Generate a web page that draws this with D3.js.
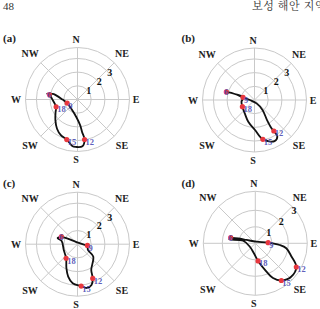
<!DOCTYPE html>
<html>
<head>
<meta charset="utf-8">
<script src="https://cdn.jsdelivr.net/npm/d3@7"></script>
<style>
body { margin: 0; background: #fff; }
svg { display: block; }
</style>
</head>
<body>
<svg width="320" height="309"></svg>
<script>
// labels
const compass = ["N", "NE", "E", "SE", "S", "SW", "W", "NW"];
const ringTicks = [1, 2, 3];
const panelNames = ["(a)", "(b)", "(c)", "(d)"];
const hours = [6, 9, 12, 15, 18];

// wind tracks: [direction (deg from N, clockwise), speed]
const trackA = [[280, 2.08], [283, 1.85], [281, 1.59], [273, 1.19], [251, 0.80], [215, 0.81],
	[184, 1.28], [174, 1.90], [172, 2.40], [170, 2.97], [174, 3.44], [182, 3.47], [186, 3.44],
	[195, 3.03], [205, 2.88], [215, 2.61], [227, 2.21], [240, 1.85], [251, 1.65], [268, 1.80],
	[277, 2.00], [281, 2.26], [280, 2.08]];
const trackB = [[286, 2.14], [287, 1.50], [283, 0.86], [270, 0.34], [149, 0.29], [141, 0.93],
	[148, 1.73], [149, 2.41], [148, 2.67], [148, 3.15], [154, 3.34], [168, 2.94], [179, 2.19],
	[196, 1.65], [216, 1.21], [241, 1.01], [262, 0.96], [283, 0.86], [287, 1.50], [286, 2.14]];
const trackC = [[295, 1.30], [302, 0.67], [18, 0.12], [96, 0.53], [97, 0.73], [119, 0.87],
	[128, 1.46], [152, 2.14], [156, 2.74], [161, 3.15], [168, 3.27], [175, 3.07], [187, 2.88],
	[196, 2.47], [205, 1.92], [219, 1.32], [247, 1.09], [281, 1.18], [287, 1.52], [295, 1.30]];
const trackD = [[283, 1.53], [286, 1.08], [291, 0.56], [37, 0.12], [87, 0.78], [94, 1.48],
	[99, 1.90], [110, 2.33], [120, 2.87], [133, 2.97], [145, 2.75], [153, 2.36], [160, 1.71],
	[171, 1.08], [188, 0.61], [238, 0.39], [282, 0.75], [279, 1.60], [283, 1.53]];

// position of each hour (6, 9, 12, 15, 18) inside the track
const marksA = [0, 4, 9, 13, 18];
const marksB = [0, 2, 8, 11, 15];
const marksC = [0, 4, 8, 11, 15];
const marksD = [0, 4, 8, 10, 13];

// layout, not data
const layout = [
	{cx: 77.5, cy: 99.5, max: 3.8, lx: 3, ly: 41.5},
	{cx: 254.5, cy: 100, max: 3.8, lx: 181.5, ly: 41.5},
	{cx: 77.5, cy: 244.2, max: 3.8, lx: 3, ly: 187},
	{cx: 255.3, cy: 243.3, max: 3.15, lx: 181.5, ly: 187}
];
const tracks = [trackA, trackB, trackC, trackD];
const marks = [marksA, marksB, marksC, marksD];

const R = 52;
const serif = "'Liberation Serif', 'Times New Roman', serif";
const gridColor = "#c9c9c9";
const rad = deg => deg * Math.PI / 180;

const svg = d3.select("svg");

// page header
svg.append("text")
	.attr("x", 3).attr("y", 10)
	.attr("font-family", serif).attr("font-size", 11).attr("fill", "#333")
	.text("48");
svg.append("text")
	.attr("x", 252).attr("y", 10)
	.attr("font-family", "'Noto Serif CJK KR', 'Noto Sans CJK KR', sans-serif")
	.attr("font-size", 11).attr("letter-spacing", 0.6).attr("fill", "#333")
	.text("보성 해안 지역");

layout.forEach((p, i) => {
	const r = d3.scaleLinear().domain([0, p.max]).range([0, R]);
	const g = svg.append("g").attr("transform", `translate(${p.cx},${p.cy})`);

	// rings (a tick ring right next to the rim is merged into it)
	g.selectAll("circle.ring")
		.data(ringTicks.filter(d => d < p.max - 0.2).concat([p.max]))
		.join("circle")
		.attr("class", "ring")
		.attr("r", d => r(d))
		.attr("fill", "none")
		.attr("stroke", gridColor)
		.attr("stroke-width", 1);

	// spokes every 45 deg
	g.selectAll("line.spoke")
		.data(compass)
		.join("line")
		.attr("class", "spoke")
		.attr("x1", 0).attr("y1", 0)
		.attr("x2", (d, k) => d3.pointRadial(rad(k * 45), R)[0])
		.attr("y2", (d, k) => d3.pointRadial(rad(k * 45), R)[1])
		.attr("stroke", gridColor)
		.attr("stroke-width", 1);

	// compass names, diagonals sit a bit further out
	g.selectAll("text.dir")
		.data(compass)
		.join("text")
		.attr("class", "dir")
		.each(function(d, k) {
			const pt = d3.pointRadial(rad(k * 45), k % 2 ? 65 : 60);
			d3.select(this).attr("x", pt[0] - 1.5).attr("y", pt[1] + 3.5);
		})
		.attr("text-anchor", "middle")
		.attr("font-family", serif).attr("font-weight", "bold").attr("font-size", 10)
		.attr("fill", "#222")
		.text(d => d);

	// ring values
	g.selectAll("text.tick")
		.data(ringTicks)
		.join("text")
		.attr("class", "tick")
		.attr("x", d => d3.pointRadial(rad(50), r(d) + 1)[0])
		.attr("y", d => d3.pointRadial(rad(50), r(d) + 1)[1] + 3.5)
		.attr("text-anchor", "middle")
		.attr("font-family", serif).attr("font-weight", "bold").attr("font-size", 10)
		.attr("fill", "#111")
		.text(d => d);

	// track
	const line = d3.lineRadial()
		.angle(d => rad(d[0]))
		.radius(d => r(d[1]))
		.curve(d3.curveCatmullRom.alpha(0.5));
	g.append("path")
		.attr("d", line(tracks[i]))
		.attr("fill", "none")
		.attr("stroke", "#111")
		.attr("stroke-width", 1.8)
		.attr("stroke-linejoin", "round");

	// hour marks
	const pts = marks[i].map((idx, h) => {
		const d = tracks[i][idx];
		const pt = d3.pointRadial(rad(d[0]), r(d[1]));
		return {hour: hours[h], x: pt[0], y: pt[1]};
	});
	g.selectAll("circle.mark")
		.data(pts)
		.join("circle")
		.attr("class", "mark")
		.attr("cx", d => d.x).attr("cy", d => d.y)
		.attr("r", 2.6)
		.attr("fill", "#e8383d");
	g.selectAll("text.hour")
		.data(pts)
		.join("text")
		.attr("class", "hour")
		.attr("x", d => d.hour == 6 ? d.x : d.x + 1)
		.attr("y", d => d.hour == 6 ? d.y + 3 : d.y + 5.5)
		.attr("text-anchor", d => d.hour == 6 ? "middle" : "start")
		.attr("font-family", serif).attr("font-weight", "bold").attr("font-size", 8.5)
		.attr("fill", "#4a4ab4")
		.attr("fill-opacity", 0.9)
		.text(d => d.hour);

	// panel name
	svg.append("text")
		.attr("x", p.lx).attr("y", p.ly)
		.attr("font-family", serif).attr("font-weight", "bold").attr("font-size", 11)
		.attr("fill", "#222")
		.text(panelNames[i]);
});
</script>
</body>
</html>
